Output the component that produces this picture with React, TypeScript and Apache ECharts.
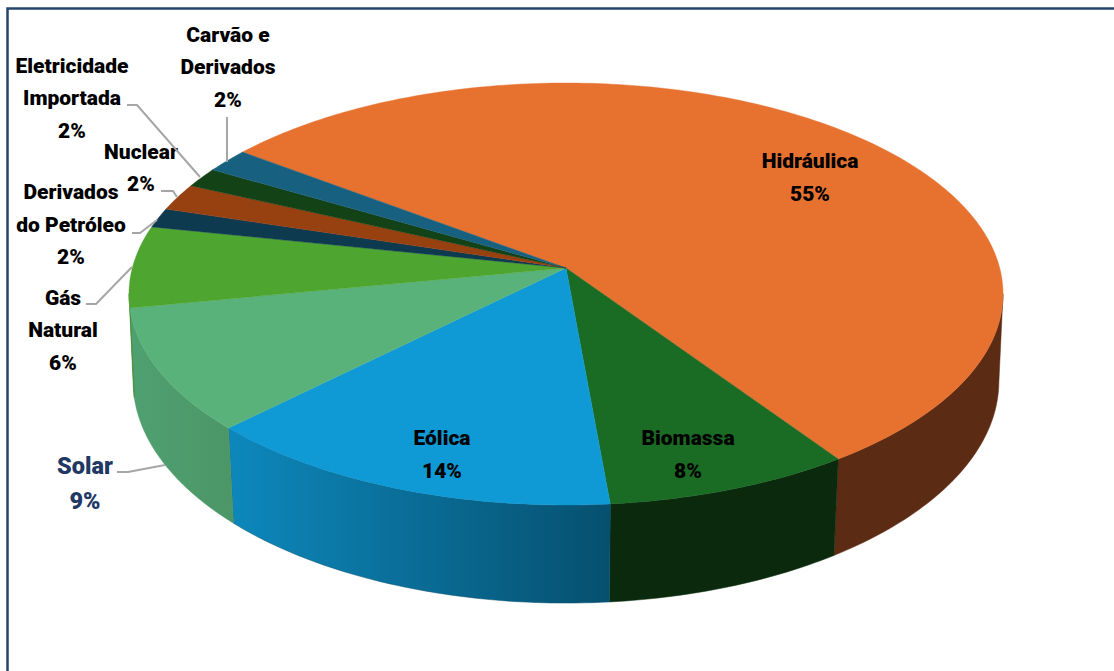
import React, { useEffect, useRef } from "react";
import * as echarts from "echarts";

// Slices, clockwise from the back-left of the pie
const names = [
  "Hidráulica", "Biomassa", "Eólica", "Solar", "Gás\nNatural",
  "Derivados\ndo Petróleo", "Nuclear", "Eletricidade\nImportada", "Carvão e\nDerivados",
];
const values = [55.2, 8.1, 14.0, 9.4, 6.25, 1.5, 2.08, 1.53, 1.86];
const topColors = ["#E77230", "#1A6B24", "#0F9AD6", "#5AB27B", "#4EA52F", "#0E3A50", "#974010", "#134216", "#18607F"];
const wallLeft = ["#5C2B14", "#0B2A0D", "#0D88BC", "#4FA070", "#3E8425", "#0A2C3D", "#74310C", "#0E3211", "#124A62"];
const wallRight = ["#5C2B14", "#0B2A0D", "#06506F", "#4C9667", "#3E8425", "#0A2C3D", "#74310C", "#0E3211", "#124A62"];

// Label anchors and leader lines (layout, not data)
const labelX = [810, 688, 442, 85, 63, 71, 141, 72, 228];
const labelY = [177.5, 454.5, 454.5, 483.5, 330, 224.5, 168, 98, 67];
const leaders: number[][][] = [
  [], [], [],
  [[117, 472], [128, 472], [165, 465]],
  [[86, 304], [96, 304], [132, 267]],
  [[132, 233], [140, 233], [157, 220]],
  [[161, 191], [173, 191], [177, 197]],
  [[127, 105], [137, 105], [200, 177]],
  [[227, 117], [227, 162]],
];

const START_ANGLE = 216.8;
const TOP = { cx: 566, cy: 268, R: 433.7, k: 207.8, p: 0.1232 };
const BOTTOM = { cx: 566, cy: 355.6, R: 430, k: 219, p: 0.115 };
const WALL_FROM = 7;
const WALL_TO = 173;

type Disc = typeof TOP;
const project = (d: Disc, deg: number): number[] => {
  const a = (deg * Math.PI) / 180;
  const u = Math.cos(a);
  const v = Math.sin(a);
  const w = 1 - d.p * v;
  return [d.cx + (d.R * u) / w, d.cy + (d.k * v) / w];
};
const arc = (d: Disc, from: number, to: number): number[][] => {
  const pts: number[][] = [];
  const n = Math.max(2, Math.ceil(Math.abs(to - from)));
  for (let i = 0; i <= n; i++) pts.push(project(d, from + ((to - from) * i) / n));
  return pts;
};
const total = values.reduce((s, v) => s + v, 0);
const sliceRange = (i: number): number[] => {
  let before = 0;
  for (let j = 0; j < i; j++) before += values[j];
  const a0 = START_ANGLE + (before / total) * 360;
  return [a0, a0 + (values[i] / total) * 360];
};

export default function App() {
  const ref = useRef<HTMLDivElement>(null);
  useEffect(() => {
    document.body.style.margin = "0";
    const chart = echarts.init(ref.current!, undefined, { renderer: "svg" });
    const seriesData = values.map((v) => [v]);

    const renderWall = (params: any) => {
      const i = params.dataIndex;
      const [a0, a1] = sliceRange(i);
      // Wrap into the visible front half of the rim
      const spans = [
        [a0, a1],
        [a0 - 360, a1 - 360],
      ];
      const children: any[] = [];
      spans.forEach(([s, e]) => {
        const from = Math.max(s, WALL_FROM);
        const to = Math.min(e, WALL_TO);
        if (to <= from) return;
        const points = [...arc(TOP, from, to), ...arc(BOTTOM, to, from)];
        children.push({
          type: "polygon",
          shape: { points },
          style: {
            fill: new echarts.graphic.LinearGradient(0, 0, 1, 0, [
              { offset: 0, color: wallLeft[i] },
              { offset: 1, color: wallRight[i] },
            ]),
            stroke: wallRight[i],
            lineWidth: 0.5,
          },
        });
      });
      return { type: "group", children };
    };

    const renderTop = (params: any) => {
      const i = params.dataIndex;
      const [a0, a1] = sliceRange(i);
      const points = [[TOP.cx, TOP.cy], ...arc(TOP, a0, a1)];
      return {
        type: "polygon",
        shape: { points },
        style: { fill: topColors[i], stroke: topColors[i], lineWidth: 0.4 },
      };
    };

    const renderLabel = (params: any, api: any) => {
      const i = params.dataIndex;
      const pct = Math.round(api.value(0));
      const isSolar = names[i] === "Solar";
      const children: any[] = [];
      if (leaders[i].length) {
        children.push({
          type: "polyline",
          shape: { points: leaders[i] },
          style: { stroke: "#A6A6A6", lineWidth: 2, fill: null },
        });
      }
      children.push({
        type: "text",
        x: labelX[i],
        y: labelY[i],
        style: {
          text: `${names[i]}\n${pct}%`,
          align: "center",
          verticalAlign: "middle",
          fontFamily: "Roboto",
          fontWeight: 900,
          fontSize: isSolar ? 23.5 : 21,
          lineHeight: isSolar ? 35 : 32.5,
          fill: isSolar ? "#1F3864" : "#000000",
        },
      });
      return { type: "group", children };
    };

    chart.setOption({
      animation: false,
      backgroundColor: "#FFFFFF",
      graphic: [
        {
          type: "polyline",
          shape: { points: [[7.5, 671], [7.5, 8.5], [1114, 8.5]] },
          style: { stroke: "#25456F", lineWidth: 2.5, fill: null },
          silent: true,
        },
      ],
      series: [
        { type: "custom", coordinateSystem: "none", silent: true, data: seriesData, renderItem: renderWall, z: 1 },
        { type: "custom", coordinateSystem: "none", silent: true, data: seriesData, renderItem: renderTop, z: 2 },
        { type: "custom", coordinateSystem: "none", silent: true, data: seriesData, renderItem: renderLabel, z: 3 },
      ],
    });
    return () => chart.dispose();
  }, []);
  return <div ref={ref} style={{ position: "absolute", left: 0, top: 0, width: 1114, height: 671 }} />;
}
